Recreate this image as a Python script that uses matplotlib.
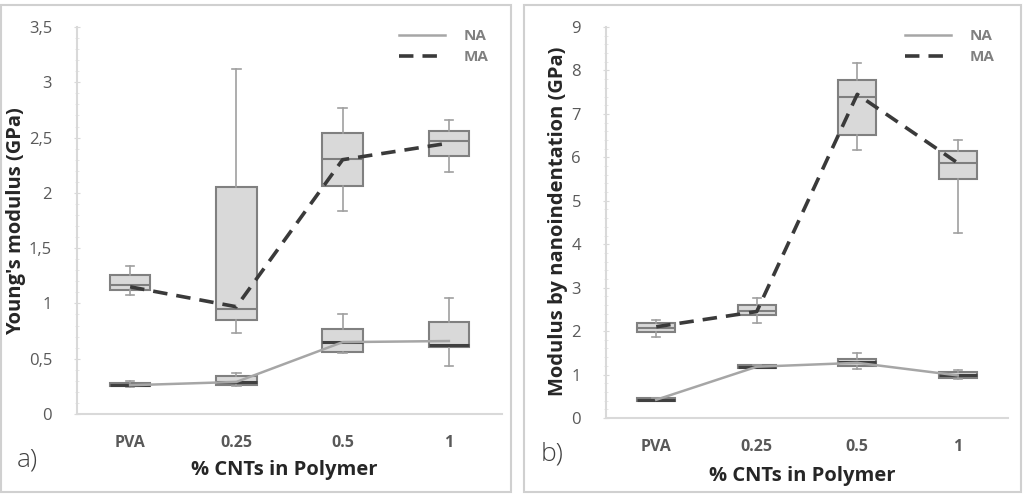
import numpy as np
import matplotlib.pyplot as plt
from matplotlib.patches import Rectangle
from matplotlib.ticker import MultipleLocator, FuncFormatter

plt.rcParams['font.family'] = ['Open Sans', 'DejaVu Sans']

# CATEGORIAS
cats = ['PVA', '0.25', '0.5', '1']

# PAINEL a) - YOUNG'S MODULUS (GPa)
a_na_q1 = [0.25, 0.26, 0.56, 0.61]
a_na_med = [0.26, 0.29, 0.65, 0.62]
a_na_q3 = [0.28, 0.34, 0.77, 0.83]
a_na_lo = [0.24, 0.25, 0.55, 0.43]
a_na_hi = [0.30, 0.37, 0.90, 1.05]
a_na_mean = [0.26, 0.29, 0.65, 0.66]

a_ma_q1 = [1.12, 0.85, 2.06, 2.33]
a_ma_med = [1.17, 0.95, 2.31, 2.47]
a_ma_q3 = [1.26, 2.05, 2.54, 2.56]
a_ma_lo = [1.08, 0.73, 1.84, 2.19]
a_ma_hi = [1.34, 3.12, 2.77, 2.66]
a_ma_mean = [1.15, 0.97, 2.30, 2.45]

# PAINEL b) - NANOINDENTATION (GPa)
b_na_q1 = [0.40, 1.15, 1.20, 0.92]
b_na_med = [0.42, 1.18, 1.28, 0.98]
b_na_q3 = [0.45, 1.21, 1.36, 1.05]
b_na_lo = [0.39, 1.14, 1.12, 0.90]
b_na_hi = [0.46, 1.22, 1.50, 1.10]
b_na_mean = [0.42, 1.18, 1.27, 0.98]

b_ma_q1 = [1.98, 2.37, 6.52, 5.49]
b_ma_med = [2.08, 2.47, 7.40, 5.87]
b_ma_q3 = [2.19, 2.60, 7.77, 6.14]
b_ma_lo = [1.87, 2.19, 6.16, 4.26]
b_ma_hi = [2.26, 2.76, 8.18, 6.39]
b_ma_mean = [2.10, 2.45, 7.45, 5.87]

W, H = 1036, 496
fig = plt.figure(figsize=(W / 100, H / 100), dpi=100)

# MOLDURAS DOS PAINEIS
for x0, x1 in [(1, 511), (524, 1021)]:
    fig.patches.append(Rectangle((x0 / W, 1 - 492 / H), (x1 - x0) / W, (492 - 5) / H,
                                 transform=fig.transFigure, fill=False,
                                 edgecolor='#d0d0d0', linewidth=1.5))


def stats(q1, med, q3, lo, hi):
    return [{'q1': a, 'med': m, 'q3': b, 'whislo': l, 'whishi': h}
            for a, m, b, l, h in zip(q1, med, q3, lo, hi)]


def painel(rect, na, ma, ymax, ymajor, yminor, ylabel, letra, letra_xy, ylabel_x, xlabel_y):
    ax = fig.add_axes(rect)
    pos = np.arange(len(cats)) + 0.5
    for s, medc, medw in [(na, '#404040', 2.2), (ma, '#7f7f7f', 1.5)]:
        ax.bxp(stats(*s[:5]), positions=pos, widths=0.38, patch_artist=True,
               showfliers=False,
               boxprops=dict(facecolor='#d9d9d9', edgecolor='#808080', linewidth=1.5),
               medianprops=dict(color=medc, linewidth=medw),
               whiskerprops=dict(color='#a0a0a0', linewidth=1.2),
               capprops=dict(color='#a0a0a0', linewidth=1.2), capwidths=0.08)
    ax.plot(pos, na[5], color='#a6a6a6', linewidth=1.8, label='NA', zorder=5)
    ax.plot(pos, ma[5], color='#3a3a3a', linewidth=2.6, dashes=(4, 2.5), label='MA', zorder=5)

    ax.set_xlim(0, 4)
    ax.set_ylim(0, ymax)
    ax.set_xticks(pos)
    ax.set_xticklabels(cats)
    ax.yaxis.set_major_locator(MultipleLocator(ymajor))
    ax.yaxis.set_minor_locator(MultipleLocator(yminor))
    ax.yaxis.set_major_formatter(FuncFormatter(lambda v, p: ('%g' % v).replace('.', ',')))
    for sp in ['top', 'right']:
        ax.spines[sp].set_visible(False)
    ax.spines['left'].set_color('#d9d9d9')
    ax.spines['bottom'].set_color('#d9d9d9')
    ax.spines['left'].set_linewidth(1.5)
    ax.spines['bottom'].set_linewidth(1.5)
    ax.tick_params(axis='x', length=0, pad=15, labelsize=11.5, labelcolor='#595959')
    ax.tick_params(axis='y', which='major', length=4, direction='inout', color='#d9d9d9',
                   pad=16, labelsize=12, labelcolor='#595959')
    ax.tick_params(axis='y', which='minor', length=3, direction='inout', color='#e3e3e3')
    for t in ax.get_xticklabels():
        t.set_fontweight('bold')

    fig.text(ylabel_x / W, 1 - 221 / H, ylabel, rotation=90, ha='center', va='center',
             fontsize=14.5, fontweight='bold', color='#262626')
    fig.text(rect[0] + rect[2] / 2 - 5 / W, 1 - xlabel_y / H, '% CNTs in Polymer', ha='center',
             va='center', fontsize=14.5, fontweight='bold', color='#262626')
    fig.text(letra_xy[0] / W, 1 - letra_xy[1] / H, letra, ha='left', va='center',
             fontsize=19, color='#404040', fontweight='light')

    leg = ax.legend(loc='upper right', bbox_to_anchor=(1.0, 1.03), frameon=False,
                    fontsize=11, handlelength=3.0, labelspacing=0.45, handletextpad=1.2)
    for t in leg.get_texts():
        t.set_color('#808080')
        t.set_fontweight('bold')
    return ax


painel([77 / W, 1 - 414 / H, 425 / W, 387 / H],
       (a_na_q1, a_na_med, a_na_q3, a_na_lo, a_na_hi, a_na_mean),
       (a_ma_q1, a_ma_med, a_ma_q3, a_ma_lo, a_ma_hi, a_ma_mean),
       3.5, 0.5, 0.1, "Young's modulus (GPa)", 'a)', (17, 460), 16, 470)

painel([606 / W, 1 - 418 / H, 402 / W, 391 / H],
       (b_na_q1, b_na_med, b_na_q3, b_na_lo, b_na_hi, b_na_mean),
       (b_ma_q1, b_ma_med, b_ma_q3, b_ma_lo, b_ma_hi, b_ma_mean),
       9, 1, 0.2, 'Modulus by nanoindentation (GPa)', 'b)', (541, 454), 558, 476)

fig.savefig('out.png', dpi=100)
